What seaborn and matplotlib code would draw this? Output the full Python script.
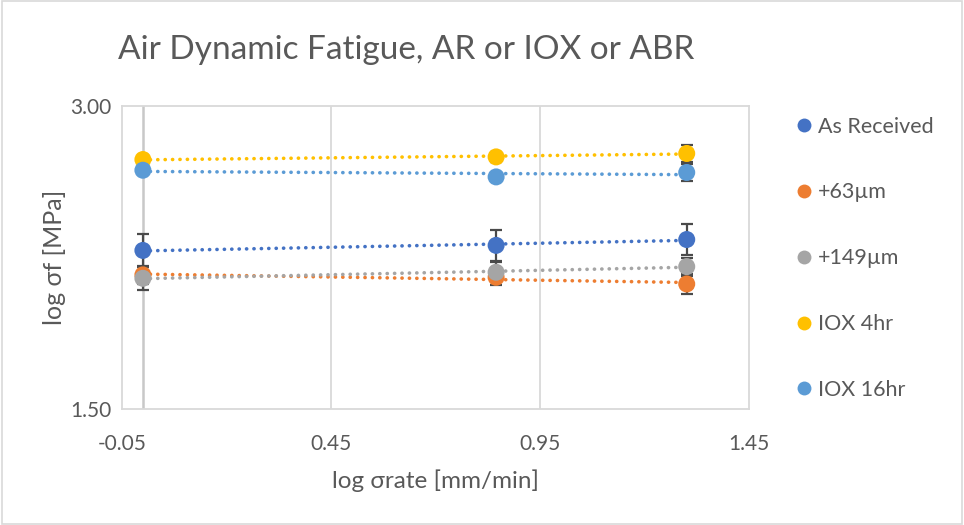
import numpy as np
import pandas as pd
import seaborn as sns
import matplotlib
matplotlib.use("Agg")
import matplotlib.pyplot as plt
from matplotlib.patches import Rectangle
from matplotlib.lines import Line2D

# ---- data ----
x_vals = [0.0, 0.845, 1.301]
series = ["As Received", "+63µm", "+149µm", "IOX 4hr", "IOX 16hr"]
y_as_received = [2.285, 2.310, 2.339]
y_63 = [2.164, 2.152, 2.119]
y_149 = [2.147, 2.177, 2.205]
y_iox4 = [2.735, 2.748, 2.765]
y_iox16 = [2.682, 2.649, 2.671]
err_as_received = [0.083, 0.077, 0.075]
err_63 = [0.045, 0.040, 0.050]
err_149 = [0.056, 0.050, 0.045]
err_iox4 = [0.020, 0.025, 0.044]
err_iox16 = [0.020, 0.020, 0.040]
x_ticks = [-0.05, 0.45, 0.95, 1.45]
y_ticks = [1.50, 3.00]
colors = ["#4472C4", "#ED7D31", "#A5A5A5", "#FFC000", "#5B9BD5"]

ys = [y_as_received, y_63, y_149, y_iox4, y_iox16]
errs = [err_as_received, err_63, err_149, err_iox4, err_iox16]

rows = []
for name, yv, ev in zip(series, ys, errs):
    for xv, yy, ee in zip(x_vals, yv, ev):
        rows.append({"x": xv, "y": yy, "err": ee, "series": name})
df = pd.DataFrame(rows)

sns.set_theme(style="white")
plt.rcParams["font.family"] = ["Lato", "DejaVu Sans"]

fig = plt.figure(figsize=(9.64, 5.25), dpi=100)
ax = fig.add_axes([122/964, 1-409/525, (749-122)/964, (409-106)/525])

txt = "#595959"
grid = "#D9D9D9"

# gridlines / axis
for gx in [0.45, 0.95]:
    ax.axvline(gx, color=grid, lw=1.3, zorder=0)
ax.axvline(0.0, color="#C8C8C8", lw=1.8, zorder=0)

# trend lines
for name, col in zip(series, colors):
    sub = df[df["series"] == name]
    sns.regplot(data=sub, x="x", y="y", ax=ax, scatter=False, ci=None,
                truncate=True,
                line_kws=dict(color=col, lw=2.6, linestyle=(0, (0.05, 2.0)),
                              dash_capstyle="round", solid_capstyle="round",
                              zorder=1))

# error bars
for name in series:
    sub = df[df["series"] == name]
    ax.errorbar(sub["x"], sub["y"], yerr=sub["err"], fmt="none",
                ecolor="#4A4A4A", elinewidth=1.6, capsize=4.5, capthick=1.6,
                zorder=2)

sns.scatterplot(data=df, x="x", y="y", hue="series", palette=colors,
                hue_order=series, s=150, edgecolor="none", ax=ax, zorder=3,
                legend=False)

ax.set_xlim(-0.05, 1.45)
ax.set_ylim(1.5, 3.0)
ax.set_xticks(x_ticks)
ax.set_xticklabels([f"{v:.2f}" for v in x_ticks])
ax.set_yticks(y_ticks)
ax.set_yticklabels([f"{v:.2f}" for v in y_ticks])
ax.tick_params(axis="both", length=0, labelsize=15, colors=txt)
ax.tick_params(axis="x", pad=18)
ax.tick_params(axis="y", pad=7.5)
for sp in ax.spines.values():
    sp.set_color(grid)
    sp.set_linewidth(1.3)
ax.set_xlabel("log σrate [mm/min]", fontsize=17.5, color=txt, labelpad=11)
ax.set_ylabel("log σf [MPa]", fontsize=18, color=txt, labelpad=3)

fig.text(118/964, 1-50/525, "Air Dynamic Fatigue, AR or IOX or ABR",
         fontsize=24, color=txt, ha="left", va="center")

handles = [Line2D([], [], marker="o", linestyle="none", markersize=10,
                  markerfacecolor=c, markeredgecolor="none") for c in colors]
leg = fig.legend(handles, series, loc="upper left",
                 bbox_to_anchor=(782/964, 1-108/525), frameon=False,
                 fontsize=15.5, labelspacing=2.13, handletextpad=0.05,
                 handlelength=1.2, borderaxespad=0)
for t in leg.get_texts():
    t.set_color(txt)

fig.patches.append(Rectangle((0.002, 0.002), 0.996, 0.996,
                             transform=fig.transFigure, fill=False,
                             edgecolor=grid, lw=1.2))

fig.savefig("out.png", dpi=100)
